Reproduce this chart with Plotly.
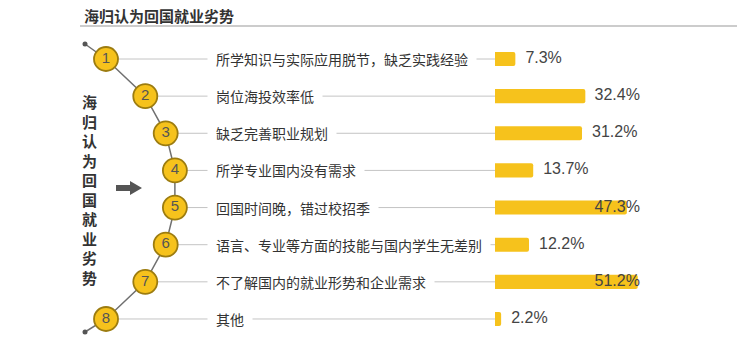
import plotly.graph_objects as go

# ---- data ----
title = "海归认为回国就业劣势"
side_text = "海归认为回国就业劣势"
ranks = [1, 2, 3, 4, 5, 6, 7, 8]
labels = [
    "所学知识与实际应用脱节，缺乏实践经验",
    "岗位海投效率低",
    "缺乏完善职业规划",
    "所学专业国内没有需求",
    "回国时间晚，错过校招季",
    "语言、专业等方面的技能与国内学生无差别",
    "不了解国内的就业形势和企业需求",
    "其他",
]
values = [7.3, 32.4, 31.2, 13.7, 47.3, 12.2, 51.2, 2.2]

# ---- layout geometry (pixels) ----
W, H = 737, 338
row0, row_step = 59, 37.14
bar_x0 = 495
pct_range = 86.8
arc_peak, arc_R, arc_cy = 176, 155.7, 189

def row_px(r):
    return row0 + (r - 1) * row_step

def arc_x(py):
    dy = py - arc_cy
    return arc_peak - arc_R + max(arc_R**2 - dy**2, 0) ** 0.5

y_top = 1 - row0 / row_step
y_bot = 1 + (H - row0) / row_step

circle_x = [arc_x(row_px(r)) for r in ranks]

YEL = "#F6C21C"
TXT = "#333333"
CJK = "Noto Sans CJK SC"

fig = go.Figure()

# curve through circles
cx = [85] + circle_x + [85]
cy = [y_top + (44 / row_step)] + ranks + [y_top + (332 / row_step)]
fig.add_trace(go.Scatter(x=cx, y=cy, mode="lines", line=dict(color="#707070", width=1.5),
                         hoverinfo="skip", showlegend=False))
fig.add_trace(go.Scatter(x=[cx[0], cx[-1]], y=[cy[0], cy[-1]], mode="markers",
                         marker=dict(color="#555555", size=5), hoverinfo="skip", showlegend=False))

# connector lines
for r, x in zip(ranks, circle_x):
    fig.add_shape(type="line", xref="x", yref="y", x0=x, x1=bar_x0, y0=r, y1=r,
                  line=dict(color="#c4c4c4", width=1), layer="below")

# circles with numbers
fig.add_trace(go.Scatter(x=circle_x, y=ranks, mode="markers+text", text=[str(r) for r in ranks],
                         textposition="middle center",
                         textfont=dict(family="Liberation Sans, Arial", size=15, color="#555555"),
                         marker=dict(size=24, color=YEL, line=dict(color="#9c7c10", width=1.8)),
                         hoverinfo="skip", showlegend=False))

# bars
fig.add_trace(go.Bar(x=values, y=ranks, orientation="h", xaxis="x2", yaxis="y",
                     marker=dict(color=YEL, line=dict(width=0)), width=0.38,
                     hoverinfo="skip", showlegend=False))

# value labels
lab_x = [min(v + 3.6, 35.7) for v in values]
fig.add_trace(go.Scatter(x=lab_x, y=ranks, xaxis="x2", yaxis="y", mode="text",
                         text=[f"{v:.1f}%" for v in values], textposition="middle right",
                         textfont=dict(family="Liberation Sans, Arial", size=16, color="#444444"),
                         hoverinfo="skip", showlegend=False))

# category labels
for r, t in zip(ranks, labels):
    fig.add_annotation(x=207, y=r, xref="x", yref="y", text=t, showarrow=False,
                       xanchor="left", yanchor="middle", bgcolor="white", borderpad=8,
                       font=dict(family=CJK, size=14, color=TXT))

# title + underline
fig.add_annotation(x=82 / W, y=1 - 15 / H, xref="paper", yref="paper", text=f"<b>{title}</b>",
                   showarrow=False, xanchor="left", yanchor="middle",
                   font=dict(family=CJK, size=15, color=TXT))
fig.add_shape(type="line", xref="paper", yref="paper", x0=80 / W, x1=1, y0=1 - 26 / H, y1=1 - 26 / H,
              line=dict(color="#cccccc", width=2))

# vertical side text
fig.add_annotation(x=89 / W, y=1 - 189 / H, xref="paper", yref="paper",
                   text="<b>" + "<br>".join(side_text) + "</b>", showarrow=False,
                   xanchor="center", yanchor="middle",
                   font=dict(family=CJK, size=15, color=TXT))

# arrow
def py(y):
    return 1 - y / H

path = (f"M {116},{py(185)} L {130},{py(185)} L {130},{py(181)} L {142},{py(188)} "
        f"L {130},{py(195)} L {130},{py(191)} L {116},{py(191)} Z")
fig.add_shape(type="path", xref="x", yref="paper", path=path, fillcolor="#555555",
              line=dict(width=0))

fig.update_layout(
    width=W, height=H, margin=dict(l=0, r=0, t=0, b=0),
    paper_bgcolor="white", plot_bgcolor="white",
    xaxis=dict(range=[0, W], domain=[0, 1], visible=False, fixedrange=True),
    xaxis2=dict(range=[0, pct_range], domain=[bar_x0 / W, 1], anchor="y", visible=False, fixedrange=True),
    yaxis=dict(range=[y_bot, y_top], domain=[0, 1], visible=False, fixedrange=True),
    barcornerradius=2,
    showlegend=False,
)

fig.write_html("out.html")
